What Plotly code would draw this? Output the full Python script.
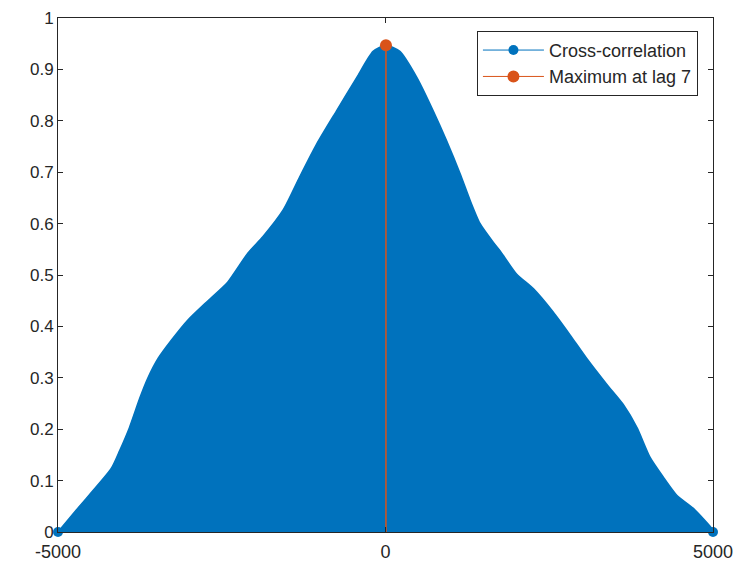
import plotly.graph_objects as go
import numpy as np

# Envelope of the cross-correlation stems (lag, value)
lags = [-5000, -4700, -4190, -4060, -3910, -3750, -3630, -3470, -3270, -3020,
        -2710, -2410, -2100, -1870, -1560, -1310, -1050, -750, -440, -190,
        7, 220, 480, 730, 930, 1140, 1290, 1440, 1650, 1750,
        2000, 2260, 2560, 2820, 3070, 3380, 3630, 3840, 4040, 4240,
        4450, 4700, 4980, 5000]
corr = [0.0, 0.046, 0.123, 0.158, 0.203, 0.261, 0.299, 0.338, 0.373, 0.412,
        0.450, 0.486, 0.543, 0.575, 0.627, 0.691, 0.755, 0.819, 0.884, 0.935,
        0.947, 0.935, 0.884, 0.819, 0.762, 0.697, 0.646, 0.601, 0.563, 0.547,
        0.502, 0.473, 0.428, 0.383, 0.338, 0.287, 0.248, 0.203, 0.145, 0.107,
        0.071, 0.046, 0.007, 0.0]

x_ticks = [-5000, 0, 5000]
x_ticktext = ["-5000", "0", "5000"]
y_ticks = [0, 0.1, 0.2, 0.3, 0.4, 0.5, 0.6, 0.7, 0.8, 0.9, 1]
y_ticktext = ["0", "0.1", "0.2", "0.3", "0.4", "0.5", "0.6", "0.7", "0.8", "0.9", "1"]

BLUE = "#0072BD"
ORANGE = "#D95319"
AXC = "#262626"
FONT = "Liberation Sans, Arial, Helvetica, sans-serif"

imax = int(np.argmax(corr))
peak_lag = lags[imax]
peak_val = corr[imax]

fig = go.Figure()
# dense stems -> filled envelope
fig.add_trace(go.Scatter(
    x=lags, y=corr, mode="lines", showlegend=False,
    line=dict(color=BLUE, width=1.5, shape="spline", smoothing=0.6),
    fill="tozeroy", fillcolor=BLUE, hoverinfo="skip",
))
# end stems' markers (poke out below the axis) + legend entry
fig.add_trace(go.Scatter(
    x=[lags[0], None, lags[-1]], y=[corr[0], None, corr[-1]],
    mode="lines+markers", name="Cross-correlation", connectgaps=False,
    line=dict(color=BLUE, width=1),
    marker=dict(color=BLUE, size=10, opacity=1, line=dict(width=0)),
    cliponaxis=False,
))
# stem of the maximum
fig.add_trace(go.Scatter(
    x=[peak_lag, peak_lag], y=[0, peak_val], mode="lines", showlegend=False,
    line=dict(color=ORANGE, width=1.5), hoverinfo="skip",
))
# marker of the maximum + legend entry
fig.add_trace(go.Scatter(
    x=[peak_lag], y=[peak_val], mode="lines+markers",
    name=f"Maximum at lag {peak_lag}",
    line=dict(color=ORANGE, width=1),
    marker=dict(color=ORANGE, size=12, opacity=1, line=dict(width=0)),
    cliponaxis=False,
))

axis_common = dict(
    showline=True, linecolor=AXC, linewidth=1, mirror="ticks",
    ticks="inside", ticklen=5, tickcolor=AXC, tickwidth=1,
    showgrid=False, zeroline=False, ticklabeloverflow="allow",
    automargin=False,
)
fig.update_xaxes(range=[-5000, 5000], tickvals=x_ticks, ticktext=x_ticktext,
                 ticklabelstandoff=3,
                 tickfont=dict(family=FONT, size=18, color=AXC), **axis_common)
fig.update_yaxes(range=[0, 1], tickvals=y_ticks, ticktext=y_ticktext,
                 tickfont=dict(family=FONT, size=17, color=AXC), **axis_common)

fig.update_layout(
    width=748, height=566,
    margin=dict(l=50, r=43, t=10, b=42, autoexpand=False),
    paper_bgcolor="white", plot_bgcolor="white",
    font=dict(family=FONT, size=18, color=AXC),
    showlegend=True,
    legend=dict(
        x=0.977, xanchor="right", y=0.975, yanchor="top",
        bgcolor="white", bordercolor=AXC, borderwidth=1,
        font=dict(family=FONT, size=18, color=AXC),
        itemwidth=61, tracegroupgap=0,
    ),
)

fig.write_html("out.html")
